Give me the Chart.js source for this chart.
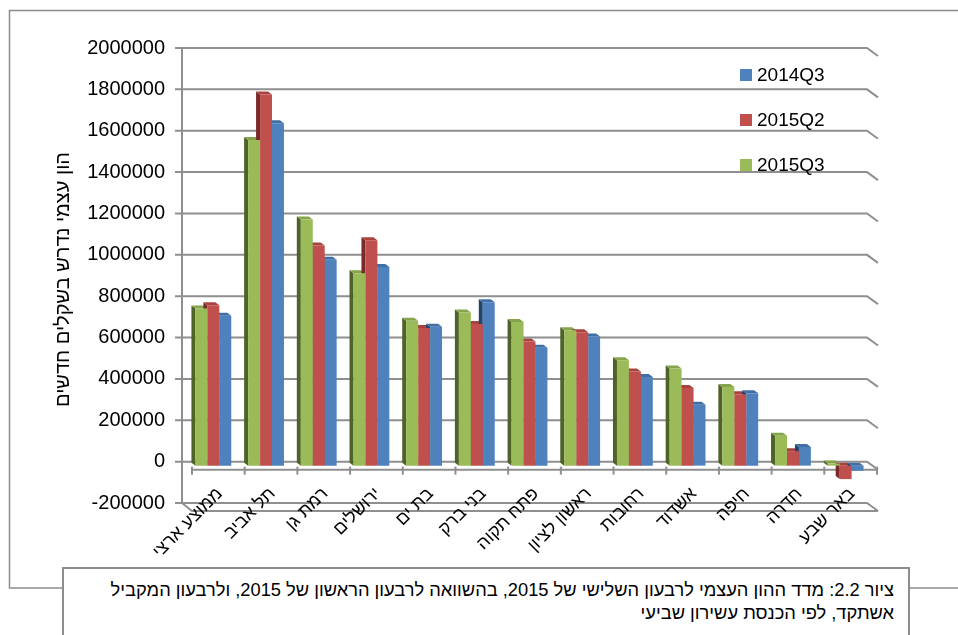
<!DOCTYPE html>
<html>
<head>
<meta charset="utf-8">
<script src="https://cdn.jsdelivr.net/npm/chart.js@4"></script>
<style>
  body { margin: 0; overflow: hidden; background: #fff; }
  #wrap { position: relative; width: 958px; height: 635px; }
  #caption {
    position: absolute; left: 62px; top: 567px; width: 830px; height: 90px;
    border: 2px solid #8c8c8c; background: #fff; direction: rtl; text-align: right;
    font: 18.3px "Liberation Sans", Arial, sans-serif; line-height: 23px;
    padding: 9px 14px 0 0; color: #000; box-sizing: content-box; white-space: nowrap;
  }
</style>
</head>
<body>
<div id="wrap">
  <canvas id="chart" width="958" height="635"></canvas>
  <div id="caption">ציור 2.2: מדד ההון העצמי לרבעון השלישי של 2015, בהשוואה לרבעון הראשון של 2015, ולרבעון המקביל<br>אשתקד, לפי הכנסת עשירון שביעי</div>
</div>
<script>
const cities = ["ממוצע ארצי", "תל אביב", "רמת גן", "ירושלים", "בת ים", "בני ברק", "פתח תקוה",
                "ראשון לציון", "רחובות", "אשדוד", "חיפה", "חדרה", "באר שבע"];
const q3_2015 = [760000, 1575000, 1190000, 930000, 700000, 740000, 695000, 655000, 510000, 470000, 380000, 145000, 10000];
const q2_2015 = [775000, 1795000, 1065000, 1090000, 665000, 685000, 600000, 645000, 455000, 375000, 345000, 70000, -65000];
const q3_2014 = [725000, 1655000, 995000, 960000, 672000, 790000, 570000, 625000, 428000, 295000, 350000, 90000, -25000];
const yTicks = [-200000, 0, 200000, 400000, 600000, 800000, 1000000, 1200000, 1400000, 1600000, 1800000, 2000000];

const FONT = '"Liberation Sans", Arial, sans-serif';
const GRID = '#8f8f8f';
// bar side / top shading
const shade = {
  '#9BBB59': { side: '#4f6228', cap: '#86a44b' },
  '#C0504D': { side: '#7a2a28', cap: '#a8433f' },
  '#4F81BD': { side: '#24446d', cap: '#416fa5' }
};
const BACK = { dx: -5, dy: -4 };   // back wall offset from bar plane
const FRONT = { dx: 5, dy: 4 };    // front floor edge offset
const BAR_DEPTH = { dx: -4, dy: -3 };

function line(ctx, pts, color, w) {
  ctx.beginPath();
  ctx.moveTo(pts[0][0], pts[0][1]);
  for (let i = 1; i < pts.length; i++) ctx.lineTo(pts[i][0], pts[i][1]);
  ctx.strokeStyle = color;
  ctx.lineWidth = w;
  ctx.stroke();
}

function poly(ctx, pts, color) {
  ctx.beginPath();
  ctx.moveTo(pts[0][0], pts[0][1]);
  for (let i = 1; i < pts.length; i++) ctx.lineTo(pts[i][0], pts[i][1]);
  ctx.closePath();
  ctx.fillStyle = color;
  ctx.fill();
}

const frame3d = {
  id: 'frame3d',
  beforeDraw(chart) {
    const ctx = chart.ctx;
    ctx.save();
    line(ctx, [[958, 10.5], [9.5, 10.5], [9.5, 588], [70, 588]], '#8c8c8c', 1.5);
    line(ctx, [[900, 588], [958, 588]], '#8c8c8c', 1.5);
    ctx.restore();
  },
  beforeDatasetsDraw(chart) {
    const ctx = chart.ctx;
    const y = chart.scales.y, x = chart.scales.x;
    const a = chart.chartArea;
    const L = a.left + BACK.dx, R = a.right + BACK.dx;
    ctx.save();
    // back wall gridlines with the bend on the right
    yTicks.forEach(v => {
      const py = y.getPixelForValue(v) + BACK.dy;
      line(ctx, [[L - 7, py], [R, py], [a.right + FRONT.dx + 1, py + 8]], GRID, 2);
    });
    // left wall edge
    line(ctx, [[L, y.getPixelForValue(2000000) + BACK.dy], [L, y.getPixelForValue(-200000) + BACK.dy]], GRID, 2);
    // floor front edge
    const fy = y.getPixelForValue(-200000) + FRONT.dy;
    line(ctx, [[L, fy - 8], [a.left + FRONT.dx, fy], [a.right + FRONT.dx + 1, fy]], GRID, 2);
    // category axis at zero, front edge with ticks
    const zy = y.getPixelForValue(0) + FRONT.dy;
    line(ctx, [[a.left + FRONT.dx, zy], [a.right + FRONT.dx, zy]], GRID, 2);
    const step = x.getPixelForValue(1) - x.getPixelForValue(0);
    for (let i = 0; i <= cities.length; i++) {
      const px = x.getPixelForValue(0) - step / 2 + i * step + FRONT.dx;
      line(ctx, [[px, zy - 3], [px, zy + 5]], GRID, 2);
    }
    // bar side faces and tops
    chart.data.datasets.forEach((ds, di) => {
      const s = shade[ds.backgroundColor];
      chart.getDatasetMeta(di).data.forEach(bar => {
        const p = bar.getProps(['x', 'y', 'base', 'width'], true);
        const left = p.x - p.width / 2;
        const top = Math.min(p.y, p.base), bot = Math.max(p.y, p.base);
        const d = BAR_DEPTH;
        poly(ctx, [[left, top], [left + d.dx, top + d.dy], [left + d.dx, bot + d.dy], [left, bot]], s.side);
        poly(ctx, [[left, top], [left + p.width, top], [left + p.width + d.dx, top + d.dy], [left + d.dx, top + d.dy]], s.cap);
      });
    });
    ctx.restore();
  },
  afterDraw(chart) {
    const ctx = chart.ctx;
    const x = chart.scales.x;
    ctx.save();
    // category labels, slanted 45 degrees, ending under each group
    ctx.font = '18px ' + FONT;
    ctx.fillStyle = '#000';
    ctx.textAlign = 'right';
    ctx.textBaseline = 'middle';
    chart.data.labels.forEach((lab, i) => {
      ctx.save();
      ctx.translate(x.getPixelForValue(i) + 6.5, 491);
      ctx.rotate(-Math.PI / 4);
      ctx.fillText(lab, 0, 0);
      ctx.restore();
    });
    // legend, listed in reverse dataset order like the original
    ctx.font = '19px ' + FONT;
    ctx.textAlign = 'left';
    const items = chart.data.datasets.slice().reverse();
    items.forEach((ds, i) => {
      const cy = 75 + i * 45;
      ctx.fillStyle = ds.backgroundColor;
      ctx.fillRect(740, cy - 6, 12, 12);
      ctx.fillStyle = '#000';
      ctx.fillText(ds.label, 757, cy + 1);
    });
    ctx.restore();
  }
};

new Chart(document.getElementById('chart'), {
  type: 'bar',
  data: {
    labels: cities,
    datasets: [
      { label: '2015Q3', data: q3_2015, backgroundColor: '#9BBB59' },
      { label: '2015Q2', data: q2_2015, backgroundColor: '#C0504D' },
      { label: '2014Q3', data: q3_2014, backgroundColor: '#4F81BD' }
    ]
  },
  options: {
    responsive: false,
    animation: false,
    categoryPercentage: 0.68,
    barPercentage: 1.0,
    layout: { padding: { top: 52, right: 86, bottom: 0, left: 0 } },
    plugins: {
      legend: { display: false },
      tooltip: { enabled: false }
    },
    scales: {
      x: {
        grid: { display: false },
        border: { display: false },
        ticks: { display: false },
        afterFit: s => { s.height = 128; }
      },
      y: {
        min: -200000, max: 2000000,
        grid: { display: false, drawTicks: false },
        border: { display: false },
        ticks: {
          stepSize: 200000, labelOffset: -4, padding: 22,
          color: '#000', font: { family: FONT, size: 20 },
          callback: v => String(v)
        },
        title: {
          display: true, text: 'הון עצמי נדרש בשקלים חדשים',
          color: '#000', font: { family: FONT, size: 20 },
          padding: { top: 51, bottom: 0 }
        },
        afterFit: s => { s.width = 187; }
      }
    }
  },
  plugins: [frame3d]
});
</script>
</body>
</html>
